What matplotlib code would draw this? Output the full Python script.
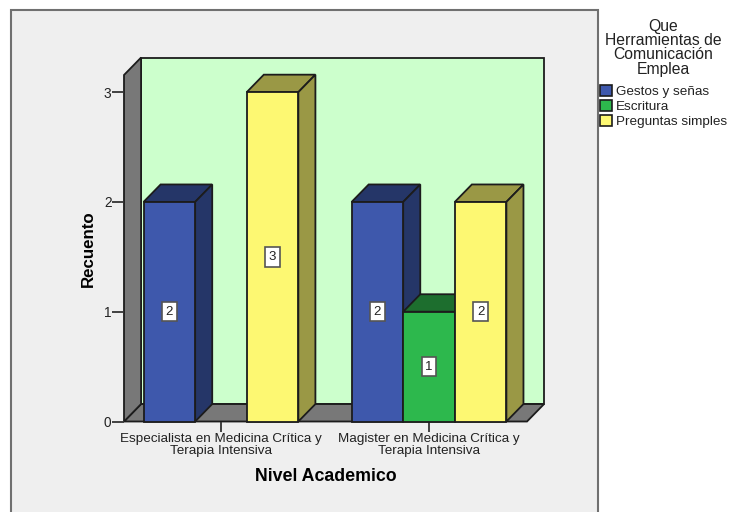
import numpy as np
import matplotlib
matplotlib.use("Agg")
import matplotlib.pyplot as plt
from matplotlib.patches import Patch, Rectangle

plt.rcParams["font.family"] = ["Liberation Sans", "DejaVu Sans"]

categories = ["Especialista en Medicina Crítica y\nTerapia Intensiva",
              "Magister en Medicina Crítica y\nTerapia Intensiva"]
series = ["Gestos y señas", "Escritura", "Preguntas simples"]
gestos = [2, 2]
escritura = [0, 1]
preguntas = [3, 2]
y_ticks = [0, 1, 2, 3]

front_colors = ["#3E58AC", "#2DB84D", "#FDF872"]
shade_colors = ["#253668", "#1D6E2E", "#9A9845"]
EDGE = "#1c1c1c"
WIDTH, HEIGHT = 730, 512
BAR_W = 0.248
DX, DY = 0.082, 0.159
XMIN, XMAX = -0.466, 1.471
YMAX = 3.156

fig = plt.figure(figsize=(WIDTH / 100, HEIGHT / 100), dpi=100, facecolor="white")

# grey chart frame, open at the bottom edge of the image
fig.add_artist(Rectangle((11 / WIDTH, -0.02), 587 / WIDTH, (502 / HEIGHT) + 0.02,
                         transform=fig.transFigure, fc="#EFEFEF", ec="#707070", lw=1.5,
                         zorder=-1))

ax = fig.add_axes([124 / WIDTH, (HEIGHT - 421.5) / HEIGHT,
                   403 / WIDTH, 346.5 / HEIGHT])
ax.set_xlim(XMIN, XMAX)
ax.set_ylim(0, YMAX)
ax.patch.set_visible(False)
for spine in ax.spines.values():
    spine.set_visible(False)


def face(xs, ys, color, zorder=2):
    ax.fill(xs, ys, fc=color, ec=EDGE, lw=1.3, clip_on=False, zorder=zorder, joinstyle="miter")


# back wall, floor and side wall of the box
face([XMIN + DX, XMAX + DX, XMAX + DX, XMIN + DX], [DY, DY, YMAX + DY, YMAX + DY], "#CCFFCC", 1)
face([XMIN, XMAX, XMAX + DX, XMIN + DX], [0, 0, DY, DY], "#787878", 1)
face([XMIN, XMIN + DX, XMIN + DX, XMIN], [0, DY, YMAX + DY, YMAX], "#787878", 1)

x = np.arange(len(categories))
for i, values in enumerate([gestos, escritura, preguntas]):
    for xc, val in zip(x, values):
        if val == 0:
            continue
        left = xc + (i - 1) * BAR_W - BAR_W / 2
        right = left + BAR_W
        face([left, right, right + DX, left + DX], [val, val, val + DY, val + DY], shade_colors[i], 3 + i)
        face([right, right + DX, right + DX, right], [0, DY, val + DY, val], shade_colors[i], 3 + i)
        ax.bar(left, val, BAR_W, align="edge", color=front_colors[i], edgecolor=EDGE,
               linewidth=1.3, zorder=3 + i, clip_on=False)
        ax.text(left + BAR_W / 2, val / 2, str(val), ha="center", va="center", fontsize=9.5,
                color="#222222", zorder=10,
                bbox=dict(boxstyle="square,pad=0.28", fc="white", ec="#555555", lw=1.2))

ax.set_yticks(y_ticks)
ax.set_xticks(x)
ax.set_xticklabels(categories, fontsize=9.7, color="#222222", linespacing=1.03)
ax.tick_params(axis="y", length=9, width=1.3, color="#333333", labelsize=9.8,
               labelcolor="#222222", pad=0)
ax.tick_params(axis="x", length=7, width=1.3, color="#333333", pad=1)
ax.set_ylabel("Recuento", fontsize=12.2, fontweight="bold", labelpad=6)
ax.set_xlabel("Nivel Academico", fontsize=12.8, fontweight="bold", labelpad=8)

handles = [Patch(fc=c, ec=EDGE, lw=1.2) for c in front_colors]
leg = fig.legend(handles, series, loc="upper left", bbox_to_anchor=(597 / WIDTH, 1 - 16 / HEIGHT),
                 frameon=False, fontsize=9.7, title="Que\nHerramientas de\nComunicación\nEmplea",
                 title_fontsize=11.3, handlelength=0.95, handleheight=0.9, handletextpad=0.25,
                 labelspacing=0.12, borderaxespad=0, borderpad=0.2, labelcolor="#222222",
                 alignment="center")
leg.get_title().set_linespacing(0.95)
leg.get_title().set_multialignment("center")
leg.get_title().set_color("#222222")
leg._legend_box.sep = 6

fig.savefig("out.png", dpi=100)
